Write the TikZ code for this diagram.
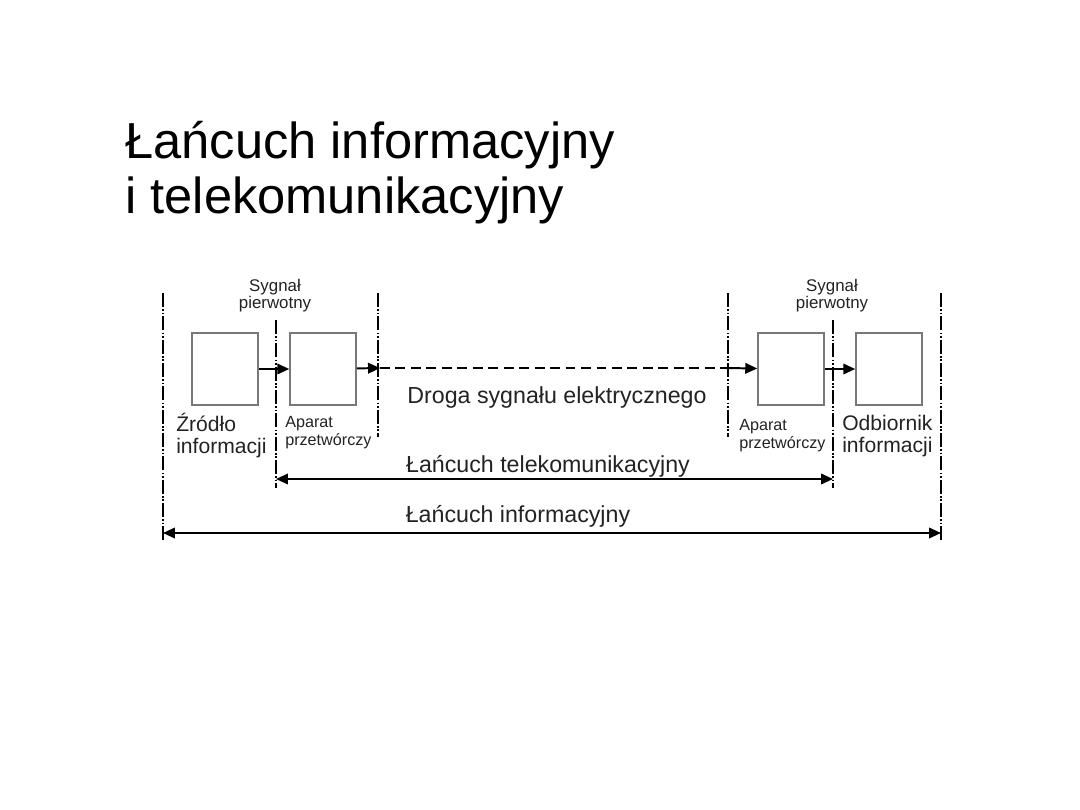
\documentclass[tikz,border=0pt]{standalone}
\usepackage{fontspec}
\setmainfont{Liberation Sans}
\usetikzlibrary{arrows.meta,positioning}
\definecolor{BoxGray}{RGB}{120,120,120}
\definecolor{TextGray}{RGB}{35,35,35}

\begin{document}
\begin{tikzpicture}[x=0.025cm, y=-0.025cm, >={Triangle[length=8.5pt,width=7.5pt]},
    every node/.style={text=TextGray},
    blok/.style={draw=BoxGray, line width=1.1pt, fill=white,
        minimum width=1.65cm, minimum height=1.8cm, inner sep=0pt},
    granica/.style={line width=0.9pt,
        dash pattern=on 10pt off 1.5pt on 1.2pt off 1.2pt on 1.2pt off 1.5pt},
    sygnal/.style={line width=1.4pt},
    opis/.style={font=\fontsize{15}{15.6}\selectfont, align=left, inner sep=0pt},
    maly/.style={font=\fontsize{11.5}{12.8}\selectfont, align=left, inner sep=0pt}]
\useasboundingbox[fill=white] (0,0) rectangle (1080,810);

% tytul
\node[anchor=base west, font=\fontsize{36}{39}\selectfont, text=black,
    align=left, inner sep=0pt] (tytul) at (125,213)
    {Łańcuch informacyjny\\i telekomunikacyjny};

% granice
\coordinate (g1t) at (163,293); \coordinate (g1b) at (163,542);
\coordinate (g2t) at (276,320); \coordinate (g2b) at (276,488);
\coordinate (g3t) at (378,293); \coordinate (g3b) at (378,437);
\coordinate (g4t) at (728,293); \coordinate (g4b) at (728,437);
\coordinate (g5t) at (833,320); \coordinate (g5b) at (833,488);
\coordinate (g6t) at (941,293); \coordinate (g6b) at (941,542);
\foreach \g in {1,...,6}
    \draw[granica] (g\g t) -- (g\g b);

% bloki
\node[blok] (zrodlo) at (225,369) {};
\node[blok] (nadajnik) at (323,369) {};
\node[blok] (odbiornik) at (791,369) {};
\node[blok] (ujscie) at (889,369) {};

% sygnal
\coordinate (p1) at (380,368);
\coordinate (p2) at (725,368);
\draw[sygnal,->] (zrodlo) -- (nadajnik);
\draw[sygnal,->] (nadajnik) -- (p1);
\draw[line width=1pt, dash pattern=on 7pt off 4pt] (p1) -- (p2);
\draw[sygnal,->] (p2) -- (odbiornik);
\draw[sygnal,->] (odbiornik) -- (ujscie);

% opisy
\node[maly, align=center, font=\fontsize{12}{12}\selectfont, anchor=base] (syg1) at (275,308)
    {Sygnał\\pierwotny};
\node[maly, align=center, font=\fontsize{12}{12}\selectfont, anchor=base] (syg2) at (832,308)
    {Sygnał\\pierwotny};
\node[opis, anchor=base west] (lzrodlo) at (176,453) {Źródło\\informacji};
\node[maly, anchor=base west] (lnad) at (285,445) {Aparat\\przetwórczy};
\node[maly, anchor=base west] (lodb) at (739,448) {Aparat\\przetwórczy};
\node[opis, anchor=base west] (lujscie) at (842,452) {Odbiornik\\informacji};
\node[opis, font=\fontsize{16.5}{18}\selectfont, anchor=base] (droga) at (557,403)
    {Droga sygnału elektrycznego};

% lancuchy
\coordinate (t1) at (276,479); \coordinate (t2) at (833,479);
\coordinate (i1) at (163,533); \coordinate (i2) at (941,533);
\draw[sygnal,<->] (t1) -- (t2);
\draw[sygnal,<->] (i1) -- (i2);
\node[opis, font=\fontsize{16.5}{18}\selectfont, anchor=base] (ltel) at (548,472)
    {Łańcuch telekomunikacyjny};
\node[opis, font=\fontsize{16.5}{18}\selectfont, anchor=base] (linf) at (518,522)
    {Łańcuch informacyjny};
\end{tikzpicture}
\end{document}
